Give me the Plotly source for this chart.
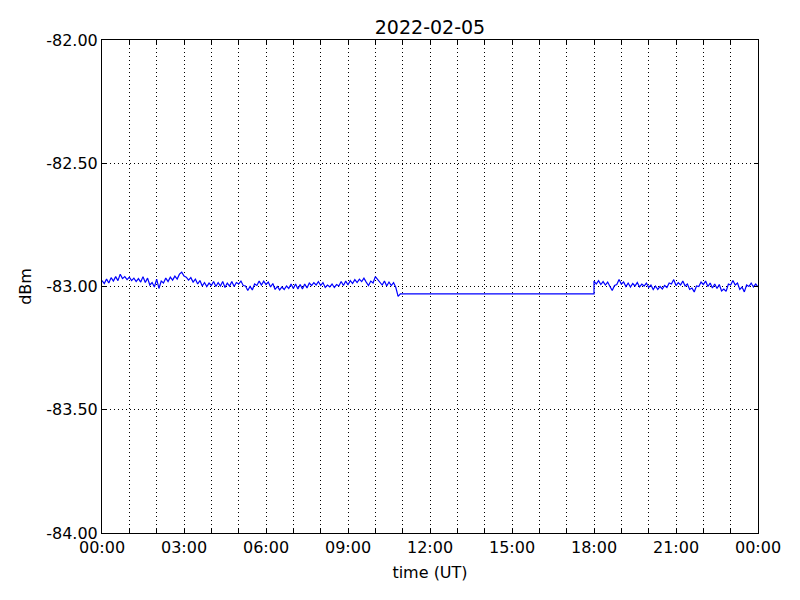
import pandas as pd
import plotly.graph_objects as go

# 5-minute samples, 00:00 - 10:55
morning_dbm = [
    -82.976, -82.988, -82.970, -82.986, -82.964, -82.978, -82.960, -82.976, -82.950, -82.968, -82.960, -82.972,
    -82.962, -82.976, -82.966, -82.980, -82.968, -82.982, -82.960, -82.984, -82.966, -82.994, -82.984, -83.002,
    -82.970, -83.008, -82.978, -82.986, -82.966, -82.980, -82.962, -82.974, -82.958, -82.970, -82.950, -82.942,
    -82.958, -82.962, -82.974, -82.964, -82.982, -82.970, -82.990, -82.976, -82.998, -82.984, -83.000, -82.986,
    -82.996, -82.980, -83.000, -82.984, -82.998, -82.980, -83.004, -82.986, -82.998, -82.980, -83.000, -82.984,
    -82.990, -82.978, -82.996, -82.998, -83.016, -83.000, -83.014, -82.990, -82.996, -82.978, -82.994, -82.978,
    -82.992, -82.982, -83.002, -82.988, -83.012, -83.000, -83.014, -83.002, -83.012, -82.998, -83.008, -82.990,
    -83.008, -82.990, -83.010, -82.992, -83.010, -82.990, -83.006, -82.986, -82.996, -82.984, -82.994, -82.980,
    -82.996, -82.984, -83.004, -82.994, -83.002, -82.990, -83.004, -82.992, -82.998, -82.980, -82.996, -82.978,
    -82.994, -82.976, -82.988, -82.972, -82.984, -82.970, -82.980, -82.966, -82.982, -82.996, -82.978, -82.986,
    -82.960, -82.972, -82.984, -82.994, -82.978, -82.998, -82.982, -82.996, -82.984, -83.004, -83.040, -83.030,
]
# constant level between 10:55 and 18:00
flat_dbm = -83.030
# 5-minute samples, 18:00 - 24:00
evening_dbm = [
    -82.978, -82.990, -82.976, -82.992, -82.980, -82.994, -82.982, -83.000, -83.016, -82.996, -82.992, -82.972,
    -82.990, -82.982, -83.000, -82.986, -83.002, -82.988, -82.998, -82.984, -83.002, -82.990, -82.998, -82.986,
    -83.004, -82.994, -83.012, -82.998, -83.012, -83.000, -83.010, -82.996, -83.004, -82.986, -82.990, -82.972,
    -82.996, -82.984, -82.994, -82.978, -82.998, -82.990, -83.012, -83.006, -83.022, -82.998, -83.000, -82.982,
    -82.992, -82.978, -83.000, -82.986, -83.006, -82.990, -83.008, -82.992, -83.018, -83.010, -83.020, -82.990,
    -82.994, -82.976, -82.994, -82.986, -83.012, -83.002, -83.022, -82.994, -83.000, -82.986, -83.002, -82.990,
    -83.002,
]
y_ticks = [-84.0, -83.5, -83.0, -82.5, -82.0]

day = pd.Timestamp("2022-02-05")
t_morning = pd.date_range(day, periods=len(morning_dbm), freq="5min")
t_evening = pd.date_range(day + pd.Timedelta(hours=18), periods=len(evening_dbm), freq="5min")

times = list(t_morning) + [day + pd.Timedelta(hours=18)] + list(t_evening)
values = morning_dbm + [flat_dbm] + evening_dbm

hours = pd.date_range(day, periods=25, freq="1h")
hour_labels = [h.strftime("%H:%M") if i % 3 == 0 else "" for i, h in enumerate(hours)]

fig = go.Figure(go.Scatter(
    x=times, y=values, mode="lines",
    line=dict(color="#0000ff", width=1.2),
))

axis_common = dict(
    showline=True, linecolor="black", linewidth=1, mirror="ticks",
    ticks="inside", ticklen=4, tickcolor="black",
    showgrid=True, gridcolor="black", gridwidth=1, griddash="1px,3px",
    zeroline=False, tickfont=dict(size=16, color="black"),
)

# the page body has an 8px margin, so shift the plot area back by that much
fig.update_layout(
    width=800, height=600,
    margin=dict(l=94, r=50, t=32, b=75),
    paper_bgcolor="white", plot_bgcolor="white",
    font=dict(family="DejaVu Sans", color="black"),
    showlegend=False,
    title=dict(text="2022-02-05", xref="paper", x=0.5, xanchor="center",
               y=0.967, yanchor="middle", font=dict(size=19)),
    xaxis=dict(
        axis_common,
        range=[hours[0], hours[-1]],
        tickmode="array", tickvals=hours, ticktext=hour_labels,
        title=dict(text="time (UT)", font=dict(size=16), standoff=10),
    ),
    yaxis=dict(
        axis_common,
        range=[-84, -82],
        tickmode="array", tickvals=y_ticks, ticktext=[f"{v:.2f}" for v in y_ticks],
        title=dict(text="dBm", font=dict(size=16), standoff=10),
    ),
)

fig.write_html("out.html")
